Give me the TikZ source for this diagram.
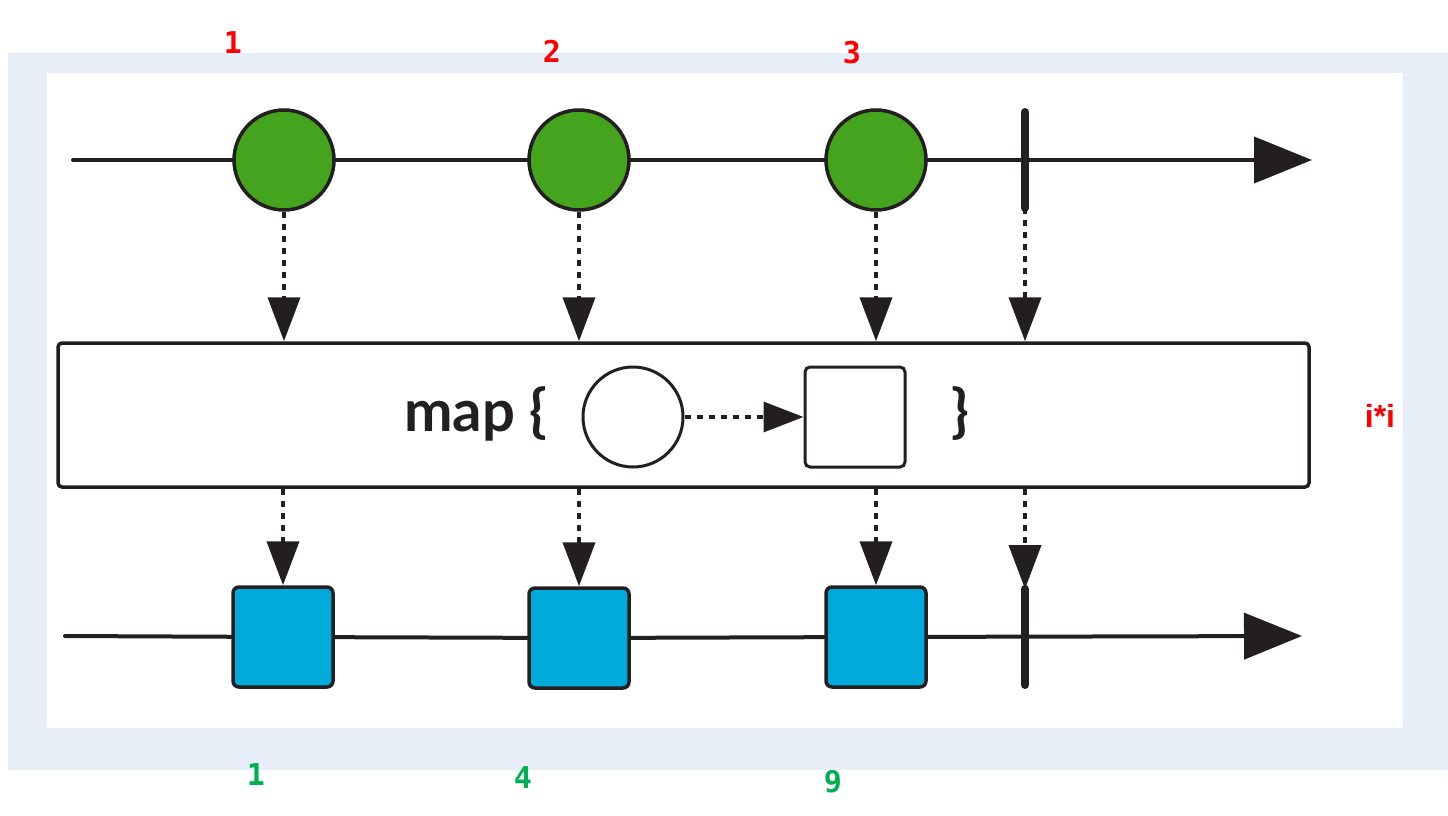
\documentclass[tikz,border=0pt]{standalone}
\usepackage{fontspec}
\setmainfont{Lato}
\newfontfamily\lblfont{DejaVu Sans Mono}
\newfontfamily\fnfont{Liberation Sans}
\usetikzlibrary{arrows.meta}
\definecolor{ink}{HTML}{231F20}
\definecolor{bandblue}{HTML}{E8EEF8}
\definecolor{ballgreen}{HTML}{44A41D}
\definecolor{boxblue}{HTML}{00AADB}
\definecolor{lblred}{HTML}{FF0000}
\definecolor{lblgreen}{HTML}{00B050}
\begin{document}
\begin{tikzpicture}[x=1pt,y=-1pt,
  tline/.style={draw=ink,line width=4pt,line cap=round},
  tarrow/.style={tline,-{Triangle[length=58pt,width=46pt]}},
  ball/.style={circle,draw=ink,line width=3.5pt,fill=ballgreen,minimum size=100pt,inner sep=0pt},
  item/.style={rectangle,rounded corners=6pt,draw=ink,line width=3.5pt,fill=boxblue,minimum size=100pt,inner sep=0pt},
  dotarrow/.style={draw=ink,line width=4pt,dash pattern=on 6pt off 6pt,-{Triangle[length=44pt,width=32pt]}},
  endbar/.style={draw=ink,line width=8pt,line cap=round},
  redlbl/.style={text=lblred,font=\lblfont\bfseries\fontsize{30}{30}\selectfont},
  greenlbl/.style={text=lblgreen,font=\lblfont\bfseries\fontsize{30}{30}\selectfont},
  opbox/.style={rectangle,draw=ink,line width=3.5pt,rounded corners=4pt,fill=white,minimum width=1251pt,minimum height=144pt,inner sep=0pt},
  optext/.style={font=\bfseries\fontsize{58}{58}\selectfont,text=ink,draw=ink,draw opacity=0,inner sep=0pt},
]
\useasboundingbox (0,0) rectangle (1448,816);
% background frame
\fill[bandblue] (8,53) rectangle (1448,770);
\fill[white] (47,73) rectangle (1403,728);

% top timeline
\coordinate (t0) at (73,160);
\coordinate (t1) at (1312,160);
\node[ball] (c1) at (284,160) {};
\node[ball] (c2) at (579,160) {};
\node[ball] (c3) at (876,160) {};
\draw[tline] (t0) -- (c1);
\draw[tline] (c1) -- (c2);
\draw[tline] (c2) -- (c3);
\draw[tarrow] (c3) -- (t1);
\coordinate (tb1) at (1025,112);
\coordinate (tb2) at (1025,208);
\draw[endbar] (tb1) -- (tb2);

% operator box
\node[opbox] (map) at (683.5,415) {};
\node[optext,anchor=east] (maptxt) at (547,414) {map \{};
\node[circle,draw=ink,line width=3pt,fill=white,minimum size=100pt,inner sep=0pt] (fin) at (633,417) {};
\node[rectangle,rounded corners=5pt,draw=ink,line width=3pt,fill=white,minimum size=100pt,inner sep=0pt] (fout) at (855,417) {};
\draw[dotarrow,line width=3.5pt,-{Triangle[length=40pt,width=30pt]}] (fin) -- (fout);
\node[optext] (close) at (960,414) {\}};

% bottom timeline
\coordinate (b0) at (65,636);
\coordinate (b1) at (1302,636);
\node[item] (s1) at (283,637) {};
\node[item] (s2) at (579,638) {};
\node[item] (s3) at (876,637) {};
\draw[tline] (b0) -- (s1);
\draw[tline] (s1) -- (s2);
\draw[tline] (s2) -- (s3);
\draw[tarrow] (s3) -- (b1);
\coordinate (bb1) at (1025,589);
\coordinate (bb2) at (1025,685);
\draw[endbar] (bb1) -- (bb2);

% dotted arrows in
\draw[dotarrow] (c1.south) -- (c1.south |- map.north);
\draw[dotarrow] (c2.south) -- (c2.south |- map.north);
\draw[dotarrow] (c3.south) -- (c3.south |- map.north);
\draw[dotarrow] (tb2) -- (tb2 |- map.north);
% dotted arrows out
\draw[dotarrow] (map.south -| s1.north) -- (s1.north);
\draw[dotarrow] (map.south -| s2.north) -- (s2.north);
\draw[dotarrow] (map.south -| s3.north) -- (s3.north);
\draw[dotarrow] (map.south -| bb1) -- (bb1);

% labels
\node[redlbl] (r1) at (233,43) {1};
\node[redlbl] (r2) at (552,51) {2};
\node[redlbl] (r3) at (852,53) {3};
\node[text=lblred,font=\fnfont\bfseries\fontsize{32}{32}\selectfont] (fn) at (1380,416) {i*i};
\node[greenlbl] (g1) at (256,775) {1};
\node[greenlbl] (g2) at (523,778) {4};
\node[greenlbl] (g3) at (833,782) {9};
\end{tikzpicture}
\end{document}
